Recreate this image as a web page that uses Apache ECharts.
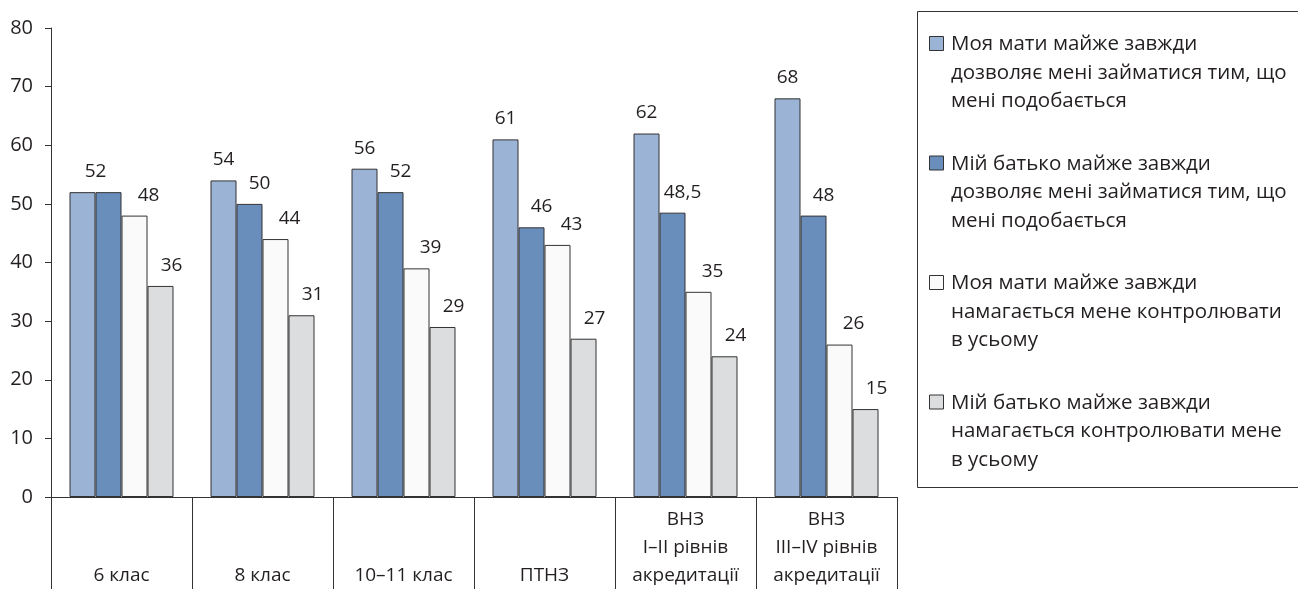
<!DOCTYPE html>
<html>
<head>
<meta charset="utf-8">
<script src="https://cdn.jsdelivr.net/npm/echarts@6/dist/echarts.min.js"></script>
<style>
html,body{margin:0;padding:0;background:#fff;}
#main{width:1298px;height:590px;}
</style>
</head>
<body>
<div id="main"></div>
<script>
const categories = ['6 клас', '8 клас', '10–11 клас', 'ПТНЗ', 'ВНЗ\nI–II рівнів\nакредитації', 'ВНЗ\nIII–IV рівнів\nакредитації'];
const seriesNames = [
  'Моя мати майже завжди\nдозволяє мені займатися тим, що\nмені подобається',
  'Мій батько майже завжди\nдозволяє мені займатися тим, що\nмені подобається',
  'Моя мати майже завжди\nнамагається мене контролювати\nв усьому',
  'Мій батько майже завжди\nнамагається контролювати мене\nв усьому'
];
const motherAllows = [52, 54, 56, 61, 62, 68];
const fatherAllows = [52, 50, 52, 46, 48.5, 48];
const motherControls = [48, 44, 39, 43, 35, 26];
const fatherControls = [36, 31, 29, 27, 24, 15];
const yTicks = [0, 10, 20, 30, 40, 50, 60, 70, 80];

const colors = ['#9BB3D5', '#6A8EBC', '#FAFAFA', '#DCDDDF'];
const labelShift = [0, 10, 14, 11];
const FONT = '"Open Sans", "Noto Sans", sans-serif';
const TXT = '#231F20';

const values = [motherAllows, fatherAllows, motherControls, fatherControls];

const series = values.map((arr, si) => ({
  name: seriesNames[si],
  type: 'bar',
  barWidth: 26,
  barGap: '0%',
  itemStyle: { color: colors[si], borderColor: '#333333', borderWidth: 1 },
  label: {
    show: true,
    position: 'top',
    distance: 11,
    offset: [labelShift[si], 0],
    color: TXT,
    fontFamily: FONT,
    fontSize: 19,
    formatter: p => String(p.value).replace('.', ',')
  },
  data: arr.map((v, i) => {
    // first group: both allow-bars equal 52, a single shared label
    if (i === 0 && si === 0) return { value: v, label: { offset: [13, 0] } };
    if (i === 0 && si === 1) return { value: v, label: { show: false } };
    return v;
  })
}));

// legend drawn as graphics (icon aligned with first text line)
const legendGraphics = [{
  type: 'rect',
  shape: { x: 917.5, y: 11.5, width: 400, height: 476 },
  style: { fill: 'none', stroke: '#333333', lineWidth: 1 },
  silent: true
}];
seriesNames.forEach((nm, i) => {
  const cy = 44 + i * 119.5;
  legendGraphics.push({
    type: 'rect',
    shape: { x: 929.5, y: cy - 7.5, width: 14, height: 14 },
    style: { fill: colors[i], stroke: '#333333', lineWidth: 1 },
    silent: true
  });
  legendGraphics.push({
    type: 'text',
    x: 951,
    y: cy - 14,
    style: {
      text: nm,
      fill: TXT,
      font: '20.5px ' + FONT,
      lineHeight: 28.5,
      textVerticalAlign: 'top',
      textAlign: 'left'
    },
    silent: true
  });
});

const chart = echarts.init(document.getElementById('main'), null, { renderer: 'canvas' });
chart.setOption({
  animation: false,
  backgroundColor: '#ffffff',
  grid: { left: 51, right: 401, top: 28, bottom: 91, containLabel: false },
  xAxis: {
    type: 'category',
    data: categories,
    boundaryGap: true,
    axisLine: { show: true, lineStyle: { color: '#333333', width: 1 } },
    axisTick: { show: true, interval: 0, length: 92, lineStyle: { color: '#333333', width: 1 } },
    axisLabel: {
      interval: 0,
      color: TXT,
      fontFamily: FONT,
      fontSize: 19,
      lineHeight: 28,
      verticalAlign: 'bottom',
      margin: 93
    },
    splitLine: { show: false }
  },
  yAxis: {
    type: 'value',
    min: yTicks[0],
    max: yTicks[yTicks.length - 1],
    interval: 10,
    axisLine: { show: true, lineStyle: { color: '#333333', width: 1 } },
    axisTick: { show: true, length: 6, lineStyle: { color: '#333333', width: 1 } },
    axisLabel: { color: TXT, fontFamily: FONT, fontSize: 20, margin: 18 },
    splitLine: { show: false }
  },
  graphic: legendGraphics,
  series: series
});
</script>
</body>
</html>
